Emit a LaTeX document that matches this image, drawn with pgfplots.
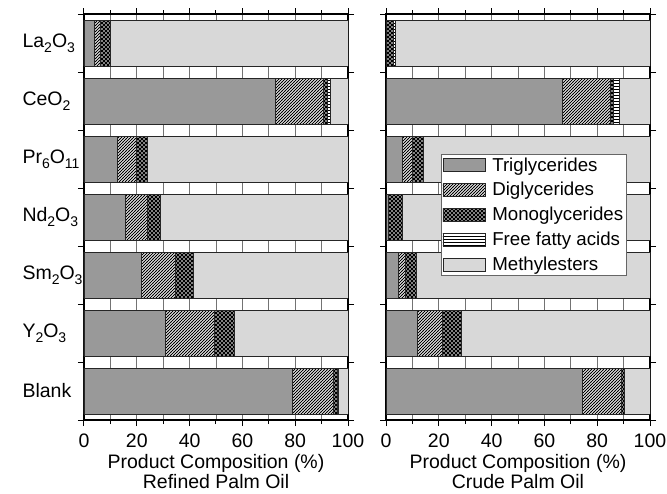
\documentclass[border=0pt]{standalone}
\usepackage{fontspec}
\setmainfont{Liberation Sans}
\usepackage{pgfplots}
\pgfplotsset{compat=1.18}
\usetikzlibrary{patterns}

\definecolor{trigray}{RGB}{153,153,153}
\definecolor{megray}{RGB}{216,216,216}

\newcommand{\sub}[1]{\raisebox{-0.45ex}{\fontsize{14}{14}\selectfont #1}}

% hatch patterns, a bit denser and darker than the built-in ones
\pgfdeclarepatternformonly{mydiag}{\pgfqpoint{-1pt}{-1pt}}{\pgfqpoint{4pt}{4pt}}{\pgfqpoint{3pt}{3pt}}{
  \pgfsetlinewidth{0.8pt}
  \pgfpathmoveto{\pgfqpoint{-0.2pt}{-0.2pt}}\pgfpathlineto{\pgfqpoint{3.2pt}{3.2pt}}
  \pgfusepath{stroke}}
\pgfdeclarepatternformonly{mycross}{\pgfqpoint{-1pt}{-1pt}}{\pgfqpoint{5pt}{5pt}}{\pgfqpoint{4pt}{4pt}}{
  \pgfsetlinewidth{1.3pt}
  \pgfpathmoveto{\pgfqpoint{-0.2pt}{-0.2pt}}\pgfpathlineto{\pgfqpoint{4.2pt}{4.2pt}}
  \pgfpathmoveto{\pgfqpoint{-0.2pt}{4.2pt}}\pgfpathlineto{\pgfqpoint{4.2pt}{-0.2pt}}
  \pgfusepath{stroke}}
\pgfdeclarepatternformonly{myhoriz}{\pgfqpoint{-1pt}{0pt}}{\pgfqpoint{4pt}{3pt}}{\pgfqpoint{3pt}{3pt}}{
  \pgfsetlinewidth{0.8pt}
  \pgfpathmoveto{\pgfqpoint{-1pt}{1.5pt}}\pgfpathlineto{\pgfqpoint{4pt}{1.5pt}}
  \pgfusepath{stroke}}

\pgfplotsset{
  panel/.style={
    xbar stacked, bar width=0.79,
    width=264pt, height=406pt, scale only axis,
    xmin=0, xmax=100, ymin=-0.5, ymax=6.5,
    xtick={0,20,...,100}, minor xtick={10,30,...,90},
    xmajorgrids, xminorgrids,
    major grid style={black!55, line width=0.8pt},
    minor grid style={black!55, line width=0.8pt},
    tick align=outside, xtick pos=both, ytick pos=both,
    ytick={-0.5,0.5,...,6.5}, yticklabels={},
    axis line style={line width=1.2pt},
    every tick/.style={black, line width=1pt},
    major tick length=6pt, minor tick length=4pt,
    every axis plot/.append style={draw=black!85, line width=0.7pt},
    /pgf/number format/assume math mode=true,
    tick label style={font=\fontsize{19.5}{22}\selectfont},
    xticklabel style={yshift=-4pt},
    xlabel style={font=\fontsize{19.5}{20.5}\selectfont, align=center, yshift=0pt},
    legend image code/.code={\draw[##1] (-2pt,-6.5pt) rectangle (40pt,6.5pt);},
  },
  tri/.style={fill=trigray},
  di/.style={fill=white, postaction={pattern=mydiag}},
  mono/.style={fill=white, postaction={pattern=mycross}},
  ffa/.style={fill=white, postaction={pattern=myhoriz}},
  me/.style={fill=megray},
}

\begin{document}
\begin{tikzpicture}
% Refined Palm Oil
% y index: 0 Blank, 1 Y2O3, 2 Sm2O3, 3 Nd2O3, 4 Pr6O11, 5 CeO2, 6 La2O3
\begin{axis}[panel,
  xlabel={Product Composition (\%)\\Refined Palm Oil},
  extra y ticks={0,...,6},
  extra y tick labels={Blank, Y\sub{2}O\sub{3}, Sm\sub{2}O\sub{3},
    Nd\sub{2}O\sub{3}, Pr\sub{6}O\sub{11},
    CeO\sub{2}, La\sub{2}O\sub{3}},
  extra y tick style={major tick length=0pt, yticklabel style={anchor=west, xshift=-65pt}},
]
\addplot[tri]  coordinates {(79,0) (30.7,1) (21.7,2) (15.7,3) (12.6,4) (72.5,5) (4,6)};
\addplot[di]   coordinates {(15.6,0) (18.7,1) (13,2) (8.3,3) (7.1,4) (18.3,5) (2.2,6)};
\addplot[mono] coordinates {(1.2,0) (7.6,1) (6.8,2) (4.9,3) (4.2,4) (1.3,5) (3.8,6)};
\addplot[ffa]  coordinates {(0.4,0) (0,1) (0,2) (0,3) (0,4) (1.3,5) (0,6)};
\addplot[me]   coordinates {(3.8,0) (43,1) (58.5,2) (71.1,3) (76.1,4) (6.6,5) (90,6)};
\end{axis}

% Crude Palm Oil
\begin{axis}[panel, xshift=302pt,
  xlabel={Product Composition (\%)\\Crude Palm Oil},
  legend style={at={(0.209,0.655)}, anchor=north west, draw=black!60, line width=0.8pt,
    font=\fontsize{18.7}{21}\selectfont, row sep=5.8pt, inner sep=1pt,
    /tikz/every odd column/.append style={column sep=5pt}},
  legend cell align=left,
]
\addplot[tri]  coordinates {(74.2,0) (11.9,1) (4.7,2) (1,3) (6.2,4) (66.8,5) (0,6)};
\addplot[di]   coordinates {(14.9,0) (9.6,1) (2.5,2) (0,3) (3.9,4) (18.2,5) (0,6)};
\addplot[mono] coordinates {(1,0) (6.9,1) (4.4,2) (5.2,3) (4.1,4) (1.3,5) (2.6,6)};
\addplot[ffa]  coordinates {(0,0) (0,1) (0,2) (0,3) (0,4) (1.9,5) (0.8,6)};
\addplot[me]   coordinates {(9.9,0) (71.6,1) (88.4,2) (93.8,3) (85.8,4) (11.8,5) (96.6,6)};
\legend{Triglycerides, Diglycerides, Monoglycerides, Free fatty acids, Methylesters}
\end{axis}

\pgfresetboundingbox
\path[use as bounding box] (-84pt,-73pt) rectangle (583pt,420pt);
\end{tikzpicture}
\end{document}
